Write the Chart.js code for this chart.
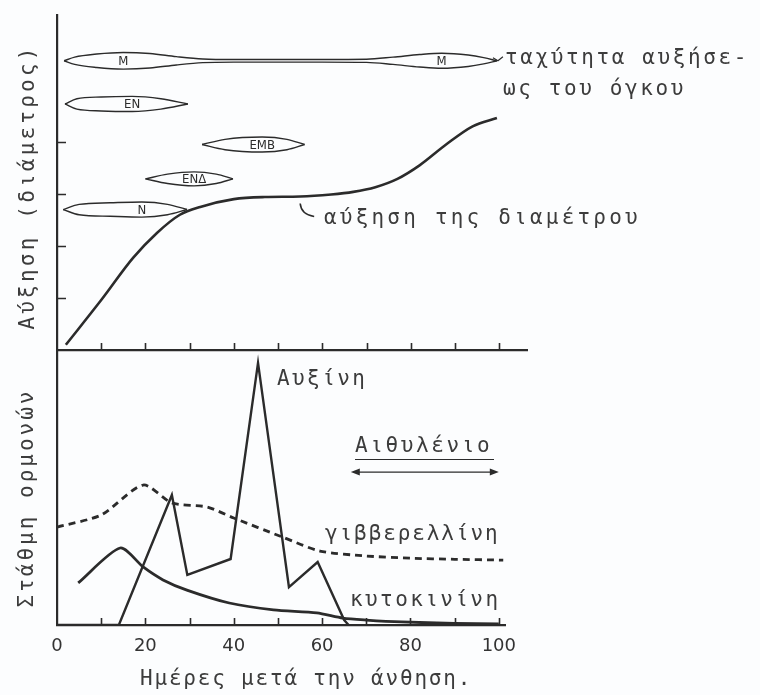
<!DOCTYPE html>
<html>
<head>
<meta charset="utf-8">
<script src="https://cdn.jsdelivr.net/npm/chart.js@4.4.1/dist/chart.umd.min.js"></script>
<style>
html, body { margin: 0; padding: 0; background: #fcfdfe; }
#wrap { position: relative; width: 760px; height: 695px; }
#wrap canvas { position: absolute; left: 0; top: 0; }
</style>
</head>
<body>
<div id="wrap">
<canvas id="growth-chart" width="760" height="695"></canvas>
<canvas id="hormone-chart" width="760" height="695"></canvas>
</div>
<script>
// top panel: diameter growth
const diameterDays = [2, 10, 17.2, 22.6, 27.8, 32.4, 40, 47, 55, 62, 67, 72, 77, 82, 88, 94, 99.5];
const diameterGrowth = [0.1, 0.96, 1.77, 2.25, 2.6, 2.75, 2.9, 2.94, 2.95, 2.99, 3.04, 3.13, 3.29, 3.55, 3.95, 4.3, 4.46];
const growthTicks = [1, 2, 3, 4];

// tissue growth-rate spindles (half width = rate)
const tissueNames = ['Μ', 'ΕΝ', 'ΕΜΒ', 'ΕΝΔ', 'Ν'];
const tissueLevel = [5.56, 4.73, 3.95, 3.29, 2.7];
const mDays = [1.6, 4, 9, 15, 21, 27, 33, 40, 60, 70, 76, 82, 87, 93, 96.5, 99.5];
const mRate = [0, 0.07, 0.13, 0.16, 0.14, 0.08, 0.035, 0.025, 0.025, 0.03, 0.07, 0.12, 0.145, 0.11, 0.06, 0];
const enDays = [1.8, 4.5, 10, 17, 23.5, 29.6];
const enRate = [0, 0.1, 0.135, 0.145, 0.1, 0];
const embDays = [32.8, 38, 46.4, 52, 56];
const embRate = [0, 0.1, 0.145, 0.1, 0];
const endDays = [20, 25, 31, 36, 39.8];
const endRate = [0, 0.09, 0.135, 0.09, 0];
const nDays = [1.4, 5, 12, 19.2, 25, 29.4];
const nRate = [0, 0.1, 0.13, 0.145, 0.1, 0];
const tissueDays = [mDays, enDays, embDays, endDays, nDays];
const tissueRate = [mRate, enRate, embRate, endRate, nRate];

// bottom panel: hormone levels
const auxinDays = [0, 14, 26, 29.5, 39.3, 45.5, 52.5, 59, 65, 66];
const auxinLevel = [0, 0, 47.3, 18.2, 24, 95.3, 13.8, 22.9, 1.8, 0];
const gibberellinDays = [0, 10, 19.5, 26, 34, 40, 51, 59.5, 70, 80, 90, 101];
const gibberellinLevel = [35.6, 40, 50.9, 44.4, 42.9, 38.9, 32, 26.9, 25.1, 24.3, 23.9, 23.6];
const cytokininDays = [4.8, 14.3, 19.5, 24, 29.4, 39, 49, 58.8, 64.7, 70, 78, 90, 100];
const cytokininLevel = [15.3, 28, 21.1, 16.4, 12.7, 8, 5.5, 4.4, 2.5, 1.8, 1.1, 0.6, 0.4];
const ethyleneSpan = [66.5, 100];
const ethyleneLevel = 55.6;
const dayTicks = [10, 20, 30, 40, 50, 60, 70, 80, 90, 100];

const ink = '#2b2b2b';
const textInk = '#3c3c3c';
const typeFont = '"DejaVu Sans Mono", "Liberation Mono", monospace';

function points(xs, ys) {
    return xs.map((x, i) => ({ x, y: ys[i] }));
}

function typed(ctx, str, x, y, size, spacing, rotate) {
    ctx.save();
    ctx.font = size + 'px ' + typeFont;
    ctx.letterSpacing = spacing + 'px';
    ctx.fillStyle = textInk;
    ctx.textBaseline = 'middle';
    if (rotate) {
        ctx.translate(x, y);
        ctx.rotate(-Math.PI / 2);
        ctx.textAlign = 'center';
        ctx.fillText(str, 0, 0);
    } else {
        ctx.textAlign = 'left';
        ctx.fillText(str, x, y);
    }
    ctx.restore();
}

function upTicks(ctx, xScale, y, len) {
    ctx.save();
    ctx.strokeStyle = ink;
    ctx.lineWidth = 1.6;
    ctx.beginPath();
    dayTicks.forEach(d => {
        const px = Math.round(xScale.getPixelForValue(d)) + 0.5;
        ctx.moveTo(px, y);
        ctx.lineTo(px, y - len);
    });
    ctx.stroke();
    ctx.restore();
}

const spindleSets = [];
tissueNames.forEach((name, i) => {
    [1, -1].forEach(sign => {
        spindleSets.push({
            data: points(tissueDays[i], tissueRate[i].map(r => tissueLevel[i] + sign * r)),
            borderColor: ink,
            borderWidth: 1.4,
            pointRadius: 0,
            cubicInterpolationMode: 'monotone'
        });
    });
});

const growthPlugin = {
    id: 'growthDecor',
    afterDraw(chart) {
        const { ctx, scales: { x, y } } = chart;
        const base = y.getPixelForValue(0);
        upTicks(ctx, x, base, 7);

        ctx.save();
        ctx.strokeStyle = ink;
        ctx.lineWidth = 1.6;
        ctx.beginPath();
        growthTicks.forEach(v => {
            const py = Math.round(y.getPixelForValue(v)) + 0.5;
            ctx.moveTo(x.left, py);
            ctx.lineTo(x.left + 9, py);
        });
        ctx.stroke();

        // labels at the widest point of each spindle
        ctx.font = '13px "DejaVu Sans Condensed", "DejaVu Sans", sans-serif';
        ctx.fillStyle = ink;
        ctx.textAlign = 'center';
        ctx.textBaseline = 'middle';
        tissueNames.forEach((name, i) => {
            const rates = tissueRate[i];
            const top = Math.max(...rates);
            rates.forEach((r, j) => {
                const isPeak = r === top || (i === 0 && j === 12);
                if (isPeak) {
                    ctx.fillText(name, x.getPixelForValue(tissueDays[i][j]), y.getPixelForValue(tissueLevel[i]) + 1);
                }
            });
        });

        // hook pointing at the diameter curve
        const hx = x.getPixelForValue(55);
        const hy = y.getPixelForValue(2.95);
        ctx.lineWidth = 1.6;
        ctx.beginPath();
        ctx.moveTo(hx, hy + 7);
        ctx.quadraticCurveTo(hx + 1, hy + 18, hx + 14, hy + 20);
        ctx.stroke();

        // small arrow from the M spindle to its caption
        const mx = x.getPixelForValue(99.5);
        const my = y.getPixelForValue(tissueLevel[0]);
        ctx.lineWidth = 1.2;
        ctx.beginPath();
        ctx.moveTo(mx - 4, my - 3);
        ctx.lineTo(mx + 1, my);
        ctx.lineTo(mx + 6, my - 4);
        ctx.stroke();
        ctx.restore();

        typed(ctx, 'ταχύτητα αυξήσε-', 505, 59, 21, 2.6);
        typed(ctx, 'ως του όγκου', 503, 90, 21, 2.6);
        typed(ctx, 'αύξηση της διαμέτρου', 324, 219, 21, 3.2);
        typed(ctx, 'Αύξηση (διάμετρος)', 29, 187, 21, 3.2, true);
    }
};

new Chart(document.getElementById('growth-chart'), {
    type: 'line',
    data: {
        datasets: [{
            data: points(diameterDays, diameterGrowth),
            borderColor: ink,
            borderWidth: 2.6,
            pointRadius: 0,
            cubicInterpolationMode: 'monotone'
        }, ...spindleSets]
    },
    options: {
        responsive: false,
        animation: false,
        layout: { padding: { top: 15, right: 233, bottom: 335, left: 0 } },
        plugins: { legend: { display: false }, tooltip: { enabled: false } },
        scales: {
            x: {
                type: 'linear',
                min: 0,
                max: 106.3,
                grid: { display: false },
                border: { color: ink, width: 2.2 },
                ticks: { display: false },
                afterFit: s => { s.height = 10; }
            },
            y: {
                min: 0,
                max: 6.44,
                grid: { display: false },
                border: { color: ink, width: 2.2 },
                ticks: { display: false },
                afterFit: s => { s.width = 57; }
            }
        }
    },
    plugins: [growthPlugin]
});

const hormonePlugin = {
    id: 'hormoneDecor',
    afterDraw(chart) {
        const { ctx, scales: { x, y } } = chart;
        upTicks(ctx, x, y.getPixelForValue(0), 7);

        // ethylene period
        const x1 = x.getPixelForValue(ethyleneSpan[0]);
        const x2 = x.getPixelForValue(ethyleneSpan[1]);
        const ay = y.getPixelForValue(ethyleneLevel);
        ctx.save();
        ctx.strokeStyle = ink;
        ctx.fillStyle = ink;
        ctx.lineWidth = 1.4;
        ctx.beginPath();
        ctx.moveTo(x1 + 4, ay);
        ctx.lineTo(x2 - 4, ay);
        ctx.stroke();
        ctx.beginPath();
        ctx.moveTo(x1, ay); ctx.lineTo(x1 + 9, ay - 3.5); ctx.lineTo(x1 + 9, ay + 3.5); ctx.closePath();
        ctx.moveTo(x2, ay); ctx.lineTo(x2 - 9, ay - 3.5); ctx.lineTo(x2 - 9, ay + 3.5); ctx.closePath();
        ctx.fill();
        ctx.lineWidth = 1;
        ctx.beginPath();
        ctx.moveTo(355, 459.5);
        ctx.lineTo(494, 459.5);
        ctx.stroke();
        ctx.restore();

        typed(ctx, 'Αυξίνη', 277, 380, 21, 2.4);
        typed(ctx, 'Αιθυλένιο', 355, 447, 21, 2.6);
        typed(ctx, 'γιββερελλίνη', 325, 535, 21, 1.9);
        typed(ctx, 'κυτοκινίνη', 350, 601, 21, 2.4);
        typed(ctx, 'Στάθμη ορμονών', 28, 498, 21, 3.0, true);
        typed(ctx, 'Ημέρες μετά την άνθηση.', 140, 680, 21, 1.8);
    }
};

new Chart(document.getElementById('hormone-chart'), {
    type: 'line',
    data: {
        datasets: [{
            label: 'Αυξίνη',
            data: points(auxinDays, auxinLevel),
            borderColor: ink,
            borderWidth: 2.4,
            pointRadius: 0,
            tension: 0
        }, {
            label: 'γιββερελλίνη',
            data: points(gibberellinDays, gibberellinLevel),
            borderColor: ink,
            borderWidth: 2.8,
            borderDash: [7, 5],
            pointRadius: 0,
            tension: 0.25
        }, {
            label: 'κυτοκινίνη',
            data: points(cytokininDays, cytokininLevel),
            borderColor: ink,
            borderWidth: 2.8,
            pointRadius: 0,
            tension: 0.25
        }]
    },
    options: {
        responsive: false,
        animation: false,
        layout: { padding: { top: 350, right: 255, bottom: 0, left: 0 } },
        plugins: { legend: { display: false }, tooltip: { enabled: false } },
        scales: {
            x: {
                type: 'linear',
                min: 0,
                max: 101.4,
                grid: { display: false, drawTicks: false },
                border: { color: ink, width: 2.2 },
                ticks: {
                    stepSize: 10,
                    includeBounds: false,
                    padding: 11,
                    maxRotation: 0,
                    autoSkip: false,
                    color: '#333',
                    font: { family: '"DejaVu Sans", sans-serif', size: 18 },
                    callback: v => (v % 20 === 0 ? String(v) : '')
                },
                afterFit: s => { s.height = 70; }
            },
            y: {
                min: 0,
                max: 100,
                grid: { display: false },
                border: { color: ink, width: 2.2 },
                ticks: { display: false },
                afterFit: s => { s.width = 57; }
            }
        }
    },
    plugins: [hormonePlugin]
});
</script>
</body>
</html>
